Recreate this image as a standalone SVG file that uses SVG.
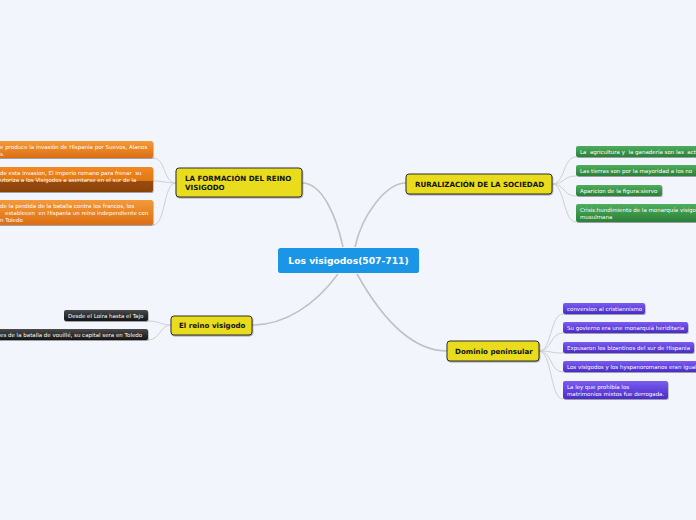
<svg xmlns="http://www.w3.org/2000/svg" width="696" height="520" viewBox="0 0 696 520">
<defs>
<linearGradient id="gOr" x1="0" y1="0" x2="0" y2="1"><stop offset="0" stop-color="#f39a3a"/><stop offset="1" stop-color="#dc6e12"/></linearGradient>
<linearGradient id="gOr2" x1="0" y1="0" x2="0" y2="1"><stop offset="0" stop-color="#f08a24"/><stop offset="0.55" stop-color="#e27614"/><stop offset="0.56" stop-color="#9a4c0a"/><stop offset="1" stop-color="#8a4206"/></linearGradient>
<linearGradient id="gGr" x1="0" y1="0" x2="0" y2="1"><stop offset="0" stop-color="#4fae5e"/><stop offset="1" stop-color="#2a8038"/></linearGradient>
<linearGradient id="gPu" x1="0" y1="0" x2="0" y2="1"><stop offset="0" stop-color="#7a5cf0"/><stop offset="1" stop-color="#4a2cc8"/></linearGradient>
<linearGradient id="gBk" x1="0" y1="0" x2="0" y2="1"><stop offset="0" stop-color="#4a4a4a"/><stop offset="1" stop-color="#141414"/></linearGradient>
<filter id="sh" x="-10%" y="-30%" width="120%" height="170%"><feDropShadow dx="0.6" dy="1" stdDeviation="0.7" flood-color="#000" flood-opacity="0.35"/></filter>
</defs>
<style>
.main{fill:none;stroke:#c2c2c2;stroke-width:1.6}
.sub{fill:none;stroke:#cfcfcf;stroke-width:1}
.yel{fill:#e8dc1c;stroke:#2e2e2e;stroke-width:1;filter:url(#sh)}
.yt{font-family:"DejaVu Sans",Verdana,sans-serif;font-weight:bold;font-size:7.1px;fill:#111}
.ct{font-family:"DejaVu Sans",Verdana,sans-serif;font-weight:bold;font-size:9.2px;fill:#fff}
.st{font-family:"DejaVu Sans",Verdana,sans-serif;font-size:5.5px;fill:#fff;white-space:pre}
.ob{fill:url(#gOr);filter:url(#sh)}
.gb{fill:url(#gGr);filter:url(#sh)}
.pb{fill:url(#gPu);filter:url(#sh)}
.bb{fill:url(#gBk);filter:url(#sh)}
</style>
<rect width="696" height="520" fill="#f3f5fc"/>
<g id="connectors">
<path class="main" d="M302,183 C322,183 336,215 343,247"/>
<path class="main" d="M406,183 C386,183 362,215 355,247"/>
<path class="main" d="M338,274 C315,305 285,325 252,325"/>
<path class="main" d="M357,274 C380,315 410,351 447,351"/>
<path class="sub" d="M176,183 C163,183 166,158 153,158"/>
<path class="sub" d="M176,183 C165,183 165,181 153,181"/>
<path class="sub" d="M176,183 C163,183 166,225 153,225"/>
<path class="sub" d="M552,184 C565,184 563,157 576,157"/>
<path class="sub" d="M552,184 C565,184 563,176 576,176"/>
<path class="sub" d="M552,184 C565,184 563,196 576,196"/>
<path class="sub" d="M552,184 C565,184 563,222 576,222"/>
<path class="sub" d="M539,351 C552,351 550,314 563,314"/>
<path class="sub" d="M539,351 C552,351 550,333 563,333"/>
<path class="sub" d="M539,351 C552,351 550,353 563,353"/>
<path class="sub" d="M539,351 C552,351 550,372 563,372"/>
<path class="sub" d="M539,351 C552,351 550,399 563,399"/>
<path class="sub" d="M171,325 C160,325 160,321 148,321"/>
<path class="sub" d="M171,325 C160,325 160,340 148,340"/>
</g>
<g id="center">
<rect x="278" y="248" width="141" height="25" rx="2.5" fill="#1b95e6"/>
<text class="ct" x="348.5" y="264" text-anchor="middle">Los visigodos(507-711)</text>
</g>
<g id="formacion">
<rect class="yel" x="176" y="168" width="126" height="29" rx="3"/>
<text class="yt" x="185" y="181">LA FORMACIÓN DEL REINO</text>
<text class="yt" x="185" y="190">VISIGODO</text>
</g>
<g id="ruralizacion">
<rect class="yel" x="406" y="174" width="146" height="20" rx="3"/>
<text class="yt" x="415" y="187">RURALIZACIÓN DE LA SOCIEDAD</text>
</g>
<g id="reino">
<rect class="yel" x="171" y="316" width="81" height="19" rx="3"/>
<text class="yt" x="179" y="328">El reino visigodo</text>
</g>
<g id="dominio">
<rect class="yel" x="447" y="341" width="92" height="20" rx="3"/>
<text class="yt" x="455" y="354">Dominio peninsular</text>
</g>
<g id="or1">
<rect class="ob" x="-4" y="141" width="157" height="17" rx="2"/>
<text class="st" x="0" y="149">e produce la invasión de Hispania por Suevos, Alanos</text>
<text class="st" x="0" y="156">s.</text>
</g>
<g id="or2">
<rect x="-4" y="167" width="157" height="25" rx="2" fill="url(#gOr2)" filter="url(#sh)"/>
<text class="st" x="0" y="175">de esta invasion, El Imperio romano para frenar  su</text>
<text class="st" x="0" y="182">utoriza a los Visigodos a asentarse en el sur de la</text>
</g>
<g id="or3">
<rect class="ob" x="-4" y="200" width="157" height="25" rx="2"/>
<text class="st" x="0" y="208">de la perdida de la batalla contra los francos, los</text>
<text class="st" x="5" y="215">establecen  en Hispania un reino independiente con</text>
<text class="st" x="0" y="222">n Toledo</text>
</g>
<g id="gr1">
<rect class="gb" x="576" y="146" width="124" height="11" rx="2"/>
<text class="st" x="580" y="154">La  agricultura y  la ganadería son las  act</text>
</g>
<g id="gr2">
<rect class="gb" x="576" y="165" width="124" height="11" rx="2"/>
<text class="st" x="580" y="173">Las tierras son por la mayoridad a los no</text>
</g>
<g id="gr3">
<rect class="gb" x="576" y="185" width="86" height="11" rx="2"/>
<text class="st" x="580" y="193">Aparicion de la figura:siervo</text>
</g>
<g id="gr4">
<rect class="gb" x="576" y="204" width="124" height="18" rx="2"/>
<text class="st" x="580" y="212">Crisis:hundimiento de la monarquía visigo</text>
<text class="st" x="580" y="219">musulmana</text>
</g>
<g id="pu1">
<rect class="pb" x="563" y="303" width="82" height="11" rx="2"/>
<text class="st" x="567" y="311">conversion al cristiannismo</text>
</g>
<g id="pu2">
<rect class="pb" x="563" y="322" width="125" height="11" rx="2"/>
<text class="st" x="567" y="330">Su govierno era une monarquiá heriditaria</text>
</g>
<g id="pu3">
<rect class="pb" x="563" y="342" width="131" height="11" rx="2"/>
<text class="st" x="567" y="350">Expusaron los bizantinos del sur de Hispania</text>
</g>
<g id="pu4">
<rect class="pb" x="563" y="361" width="137" height="11" rx="2"/>
<text class="st" x="567" y="369">Los visigodos y los hyspanoromanos eran igual</text>
</g>
<g id="pu5">
<rect class="pb" x="563" y="381" width="105" height="18" rx="2"/>
<text class="st" x="567" y="389">La ley que prohibía los</text>
<text class="st" x="567" y="396">matrimonios mixtos fue derrogada.</text>
</g>
<g id="bk1">
<rect class="bb" x="64" y="310" width="84" height="11" rx="2"/>
<text class="st" x="68" y="318">Desde el Loira hasta el Tajo</text>
</g>
<g id="bk2">
<rect class="bb" x="-4" y="329" width="152" height="11" rx="2"/>
<text class="st" x="0" y="337">es de la batalla de vouillé, su capital sera en Toledo</text>
</g>
</svg>
